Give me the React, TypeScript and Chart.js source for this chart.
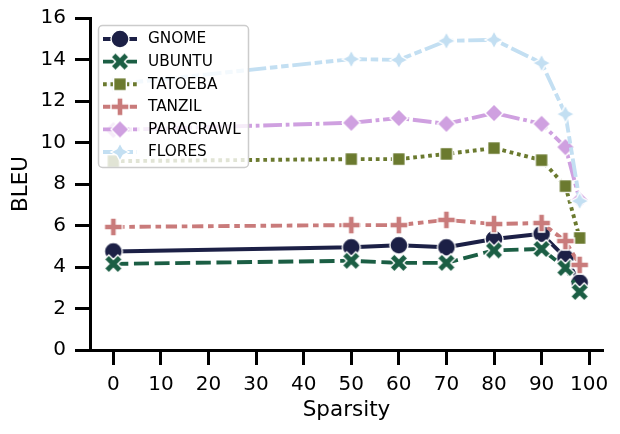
import React, { useEffect, useRef } from 'react';
import { Chart, registerables } from 'chart.js';

Chart.register(...registerables);

// ---------------- data ----------------
const sparsity = [0, 50, 60, 70, 80, 90, 95, 98];
const seriesNames = ['GNOME', 'UBUNTU', 'TATOEBA', 'TANZIL', 'PARACRAWL', 'FLORES'];
const gnome = [4.75, 4.95, 5.05, 4.95, 5.35, 5.6, 4.45, 3.25];
const ubuntu = [4.15, 4.3, 4.2, 4.2, 4.8, 4.87, 3.95, 2.8];
const tatoeba = [9.1, 9.2, 9.2, 9.45, 9.73, 9.15, 7.9, 5.4];
const tanzil = [5.93, 6.02, 6.02, 6.27, 6.07, 6.12, 5.25, 4.1];
const paracrawl = [10.6, 10.95, 11.18, 10.9, 11.42, 10.9, 9.78, 7.23];
const flores = [12.8, 14.02, 13.98, 14.9, 14.95, 13.83, 11.37, 7.18];
const xTicks = [0, 10, 20, 30, 40, 50, 60, 70, 80, 90, 100];
const yTicks = [0, 2, 4, 6, 8, 10, 12, 14, 16];
const xTitle = 'Sparsity';
const yTitle = 'BLEU';

// ---------------- styles ----------------
const seriesValues = [gnome, ubuntu, tatoeba, tanzil, paracrawl, flores];
const colors = ['#1c2046', '#1b5e44', '#6b7a2f', '#c97b7b', '#cfa0e0', '#c3dff2'];
const LW = 3.9;
const dashes: number[][] = [
  [],
  [4, 1.5],
  [1, 1],
  [3, 1.25, 1.5, 1.25],
  [5, 1, 1, 1],
  [5, 1, 2, 1, 2, 1],
].map((d) => d.map((v) => v * 3.75));
const shapes = ['circle', 'x', 'square', 'plus', 'diamond', 'star'];
const FONT = '"DejaVu Sans", "Liberation Sans", sans-serif';

function makeMarker(shape: string, color: string, size: number): HTMLCanvasElement {
  const W = 26;
  const c = document.createElement('canvas');
  c.width = W;
  c.height = W;
  const ctx = c.getContext('2d')!;
  ctx.translate(W / 2, W / 2);
  ctx.beginPath();
  const poly = (pts: number[][], scale: number) => {
    pts.forEach(([px, py], i) => {
      const X = px * scale;
      const Y = py * scale;
      if (i === 0) ctx.moveTo(X, Y);
      else ctx.lineTo(X, Y);
    });
    ctx.closePath();
  };
  if (shape === 'circle') {
    ctx.arc(0, 0, size / 2, 0, Math.PI * 2);
  } else if (shape === 'x') {
    poly(
      [[-1, -2], [0, -1], [1, -2], [2, -1], [1, 0], [2, 1], [1, 2], [0, 1], [-1, 2], [-2, 1], [-1, 0], [-2, -1]],
      size / 4
    );
  } else if (shape === 'square') {
    const h = (size / 2) * Math.SQRT1_2;
    ctx.rect(-h, -h, 2 * h, 2 * h);
  } else if (shape === 'plus') {
    poly(
      [[-1, -3], [-1, -1], [-3, -1], [-3, 1], [-1, 1], [-1, 3], [1, 3], [1, 1], [3, 1], [3, -1], [1, -1], [1, -3]],
      size / 6
    );
  } else if (shape === 'diamond') {
    const r = size / 2;
    poly([[0, -1], [1, 0], [0, 1], [-1, 0]], r);
  } else if (shape === 'star') {
    const R = size / 2;
    const r = R * 0.5;
    const pts: number[][] = [];
    for (let k = 0; k < 8; k++) {
      const a = -Math.PI / 2 + (k * Math.PI) / 4;
      const rr = k % 2 === 0 ? R : r;
      pts.push([Math.cos(a) * rr, Math.sin(a) * rr]);
    }
    poly(pts, 1);
  }
  ctx.fillStyle = color;
  ctx.fill();
  ctx.lineWidth = 1.4;
  ctx.strokeStyle = '#ffffff';
  ctx.lineJoin = 'miter';
  ctx.stroke();
  return c;
}

const legendPlugin = {
  id: 'mplLegend',
  afterDraw(chart: any) {
    const ctx: CanvasRenderingContext2D = chart.ctx;
    ctx.save();
    const x0 = 98.5, y0 = 25.5, w = 150, h = 142;
    ctx.beginPath();
    (ctx as any).roundRect(x0, y0, w, h, 4);
    ctx.fillStyle = 'rgba(255,255,255,0.8)';
    ctx.fill();
    ctx.lineWidth = 1.5;
    ctx.strokeStyle = '#cccccc';
    ctx.stroke();
    chart.data.datasets.forEach((ds: any, i: number) => {
      const y = 39 + i * 22.6;
      ctx.beginPath();
      ctx.setLineDash(ds.borderDash || []);
      ctx.strokeStyle = ds.borderColor;
      ctx.lineWidth = ds.borderWidth;
      ctx.lineCap = 'butt';
      ctx.moveTo(103, y);
      ctx.lineTo(137, y);
      ctx.stroke();
      ctx.setLineDash([]);
      const img = ds.pointStyle as HTMLCanvasElement;
      ctx.drawImage(img, 120 - img.width / 2, y - img.height / 2);
      ctx.fillStyle = '#000';
      ctx.font = '15.3px ' + FONT;
      ctx.textBaseline = 'middle';
      ctx.textAlign = 'left';
      ctx.fillText(ds.label, 148, y + 0.5);
    });
    ctx.restore();
  },
};

export default function App() {
  const ref = useRef<HTMLCanvasElement | null>(null);
  useEffect(() => {
    if (!ref.current) return;
    const datasets = seriesNames.map((name, i) => ({
      label: name,
      data: sparsity.map((x, j) => ({ x, y: seriesValues[i][j] })),
      borderColor: colors[i],
      backgroundColor: colors[i],
      borderWidth: LW,
      borderDash: dashes[i],
      borderJoinStyle: 'round' as const,
      borderCapStyle: 'butt' as const,
      pointStyle: makeMarker(shapes[i], colors[i], 18),
      pointRadius: 8,
      pointHoverRadius: 8,
      tension: 0,
      order: seriesNames.length - i,
      clip: false as any,
    }));
    const chart = new Chart(ref.current, {
      type: 'line',
      data: { datasets },
      plugins: [legendPlugin],
      options: {
        animation: false,
        responsive: false,
        devicePixelRatio: 1,
        layout: { padding: { top: 18, right: 17, left: 0, bottom: 0 } },
        plugins: { legend: { display: false }, tooltip: { enabled: false } },
        scales: {
          x: {
            type: 'linear',
            min: -4.9,
            max: 102.9,
            afterBuildTicks: (s: any) => {
              s.ticks = xTicks.map((v) => ({ value: v }));
            },
            afterFit: (s: any) => {
              s.height = 84;
              s.paddingLeft = 0;
              s.paddingRight = 0;
            },
            grid: {
              drawOnChartArea: false,
              drawTicks: true,
              tickLength: 15,
              tickWidth: 3,
              tickColor: '#000',
            },
            border: { display: true, width: 3, color: '#000' },
            ticks: {
              padding: 8,
              color: '#000',
              maxRotation: 0,
              autoSkip: false,
              font: { family: FONT, size: 20 },
              callback: (v: any) => String(v),
            },
            title: {
              display: true,
              text: xTitle,
              color: '#000',
              font: { family: FONT, size: 21.5 },
              padding: { top: 0, bottom: 11 },
            },
          },
          y: {
            type: 'linear',
            min: 0,
            max: 16,
            afterBuildTicks: (s: any) => {
              s.ticks = yTicks.map((v) => ({ value: v }));
            },
            afterFit: (s: any) => {
              s.width = 90;
              s.paddingTop = 0;
              s.paddingBottom = 0;
            },
            grid: {
              drawOnChartArea: false,
              drawTicks: true,
              tickLength: 15,
              tickWidth: 3,
              tickColor: '#000',
            },
            border: { display: true, width: 3, color: '#000' },
            ticks: {
              padding: 9,
              color: '#000',
              autoSkip: false,
              font: { family: FONT, size: 20 },
              callback: (v: any) => String(v),
            },
            title: {
              display: true,
              text: yTitle,
              color: '#000',
              font: { family: FONT, size: 21.5 },
              padding: { top: 9, bottom: 0 },
            },
          },
        },
      },
    });
    return () => chart.destroy();
  }, []);
  return (
    <div style={{ position: 'fixed', left: 0, top: 0, width: 620, height: 434, background: '#fff' }}>
      <canvas ref={ref} width={620} height={434} style={{ width: 620, height: 434, display: 'block' }} />
    </div>
  );
}
